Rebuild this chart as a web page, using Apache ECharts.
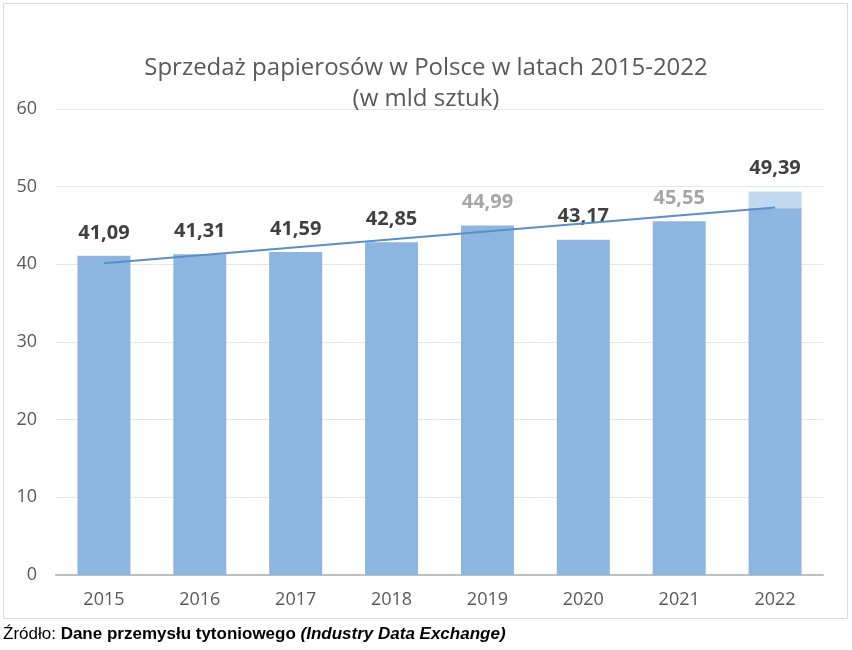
<!DOCTYPE html>
<html>
<head>
<meta charset="utf-8">
<script src="https://cdn.jsdelivr.net/npm/echarts@6/dist/echarts.min.js"></script>
<style>html,body{margin:0;padding:0;background:#fff;}#c{width:852px;height:650px;}</style>
</head>
<body>
<div id="c"></div>
<script>
const categories = ['2015','2016','2017','2018','2019','2020','2021','2022'];
const sales = [41.09, 41.31, 41.59, 42.85, 44.99, 43.17, 45.55, 49.39];
const grayLabelYears = ['2019','2021'];
const trend = [40.15, null, null, null, null, null, null, 47.33];
const yTicks = [0, 10, 20, 30, 40, 50, 60];

const chart = echarts.init(document.getElementById('c'), null, {renderer:'canvas'});
const fmt = v => v.toFixed(2).replace('.', ',');
const barData = sales.map((v, i) => {
  const item = {
    value: v,
    label: { color: grayLabelYears.includes(categories[i]) ? '#a6a6a6' : '#404040' }
  };
  if (i === sales.length - 1) {
    item.itemStyle = {
      color: new echarts.graphic.LinearGradient(0, 0, 0, 1, [
        {offset: 0, color: '#c2d8ef'}, {offset: 0.044, color: '#c2d8ef'},
        {offset: 0.045, color: '#8cb6e0'}, {offset: 1, color: '#8cb6e0'}
      ])
    };
  }
  return item;
});

chart.setOption({
  animation: false,
  backgroundColor: '#ffffff',
  title: {
    text: 'Sprzedaż papierosów w Polsce w latach 2015-2022\n(w mld sztuk)',
    left: 'center',
    top: 48,
    textStyle: { fontFamily: 'Open Sans', fontWeight: 'normal', fontSize: 24, color: '#595959', lineHeight: 31 }
  },
  graphic: [
    { type: 'rect', shape: { x: 3.5, y: 3.5, width: 844, height: 615 }, style: { fill: 'none', stroke: '#d9d9d9', lineWidth: 1 }, z: -1 },
    { type: 'text', left: 3, top: 626,
      style: {
        text: '{r|Źródło: }{b|Dane przemysłu tytoniowego }{bi|(Industry Data Exchange)}',
        rich: {
          r: { fontFamily: 'Liberation Sans', fontSize: 17, fill: '#000' },
          b: { fontFamily: 'Liberation Sans', fontSize: 17, fontWeight: 'bold', fill: '#000' },
          bi: { fontFamily: 'Liberation Sans', fontSize: 17, fontWeight: 'bold', fontStyle: 'italic', fill: '#000' }
        }
      }
    }
  ],
  grid: { left: 56, right: 29, top: 109, bottom: 75, containLabel: false },
  xAxis: {
    type: 'category',
    data: categories,
    axisLine: { lineStyle: { color: '#bfbfbf', width: 2 } },
    axisTick: { show: false },
    axisLabel: { color: '#595959', fontFamily: 'Open Sans', fontSize: 18, margin: 16 }
  },
  yAxis: {
    type: 'value',
    min: yTicks[0], max: yTicks[yTicks.length - 1], interval: 10,
    axisLine: { show: false },
    axisTick: { show: false },
    splitLine: { lineStyle: { color: '#e6e6e6', width: 1 } },
    axisLabel: { color: '#595959', fontFamily: 'Open Sans', fontSize: 18, margin: 19 }
  },
  series: [
    {
      type: 'bar',
      data: barData,
      barWidth: 53,
      itemStyle: { color: '#8cb6e0' },
      label: {
        show: true, position: 'top', distance: 13,
        formatter: p => fmt(p.value),
        fontFamily: 'Open Sans', fontWeight: 'bold', fontSize: 20
      },
      z: 2
    },
    {
      type: 'line',
      data: trend,
      connectNulls: true,
      symbol: 'none',
      lineStyle: { color: '#5b8fc5', width: 2 },
      z: 3
    }
  ]
});
</script>
</body>
</html>
